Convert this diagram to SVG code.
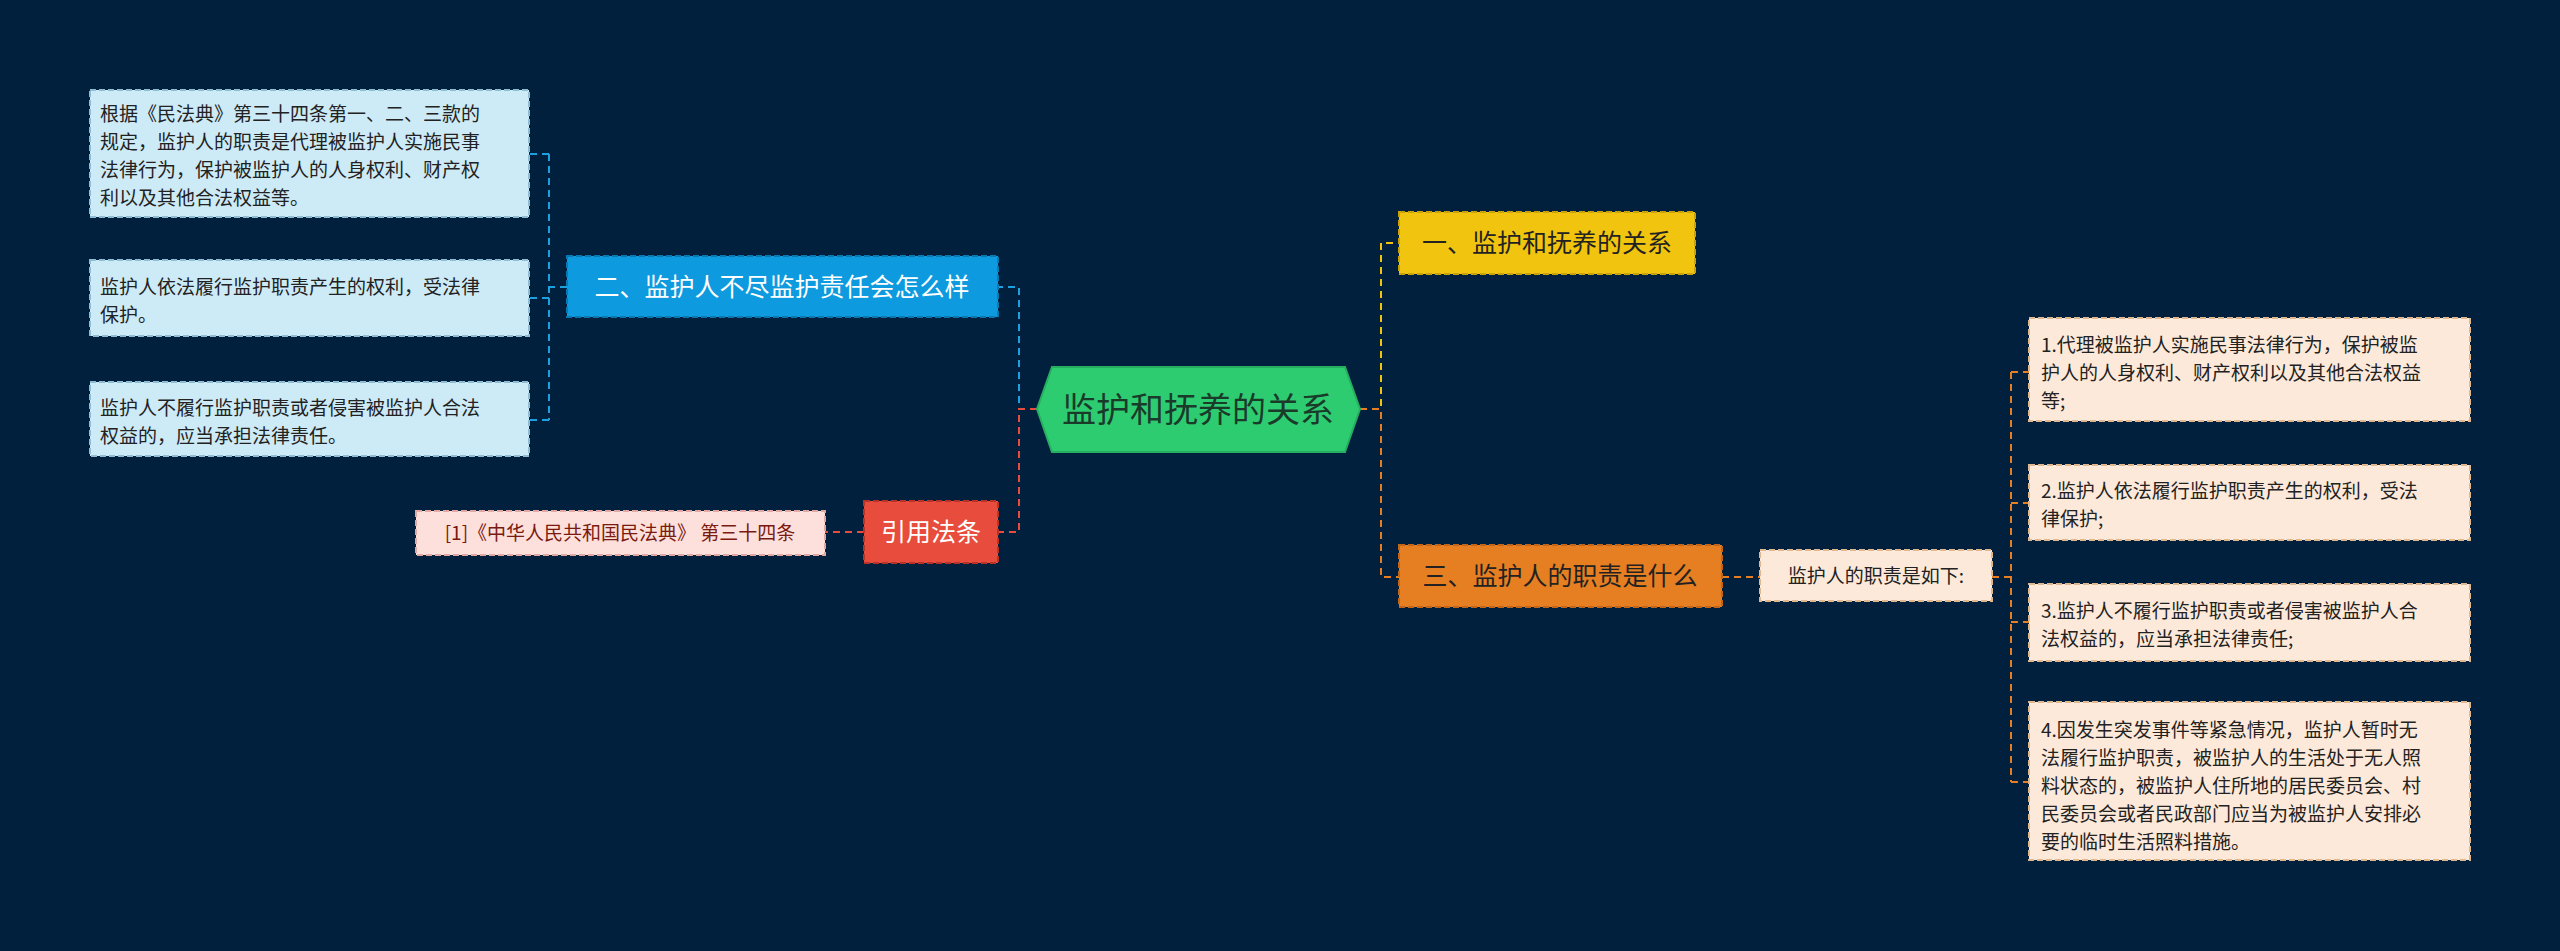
<svg xmlns="http://www.w3.org/2000/svg" width="2560" height="951" viewBox="0 0 2560 951">
<style>
.t{font-family:"Noto Sans CJK SC","Liberation Sans",sans-serif}
.c{fill:none;stroke-width:2;stroke-dasharray:7 5}
.b{stroke-width:2;stroke-dasharray:6 3}
.leaf{font-size:19px;fill:#222}
</style>
<rect width="2560" height="951" fill="#01203e"/>
<g id="connectors">
<path class="c" stroke="#f1c40f" d="M1360 409 H1381 V243 H1399"/>
<path class="c" stroke="#e67e22" d="M1360 409 H1381 V577 H1399"/>
<path class="c" stroke="#1ba1e2" d="M1037 409 H1019 V287 H998"/>
<path class="c" stroke="#e74c3c" d="M1037 409 H1019 V532 H998"/>
<path class="c" stroke="#1ba1e2" d="M567 287 H549 M549 154 V420 M549 154 H529 M549 298 H529 M549 420 H529"/>
<path class="c" stroke="#e74c3c" d="M864 532 H825"/>
<path class="c" stroke="#e67e22" d="M1722 577 H1760 M1992 577 H2011 M2011 372 V782 M2011 372 H2029 M2011 503 H2029 M2011 622 H2029 M2011 782 H2029"/>
</g>
<g id="center">
<polygon points="1052,367 1345,367 1360,409 1345,452 1052,452 1037,409" fill="#2ecc71" stroke="#27ae60" stroke-width="2"/>
<text class="t" x="1198" y="422" font-size="34" fill="#1a3a2a" text-anchor="middle">监护和抚养的关系</text>
</g>
<g id="n1">
<rect class="b" x="1399" y="212" width="296" height="62" fill="#f1c40f" stroke="#c9a20a"/>
<text class="t" x="1547" y="252" font-size="25" fill="#222" text-anchor="middle">一、监护和抚养的关系</text>
</g>
<g id="n3">
<rect class="b" x="1399" y="545" width="323" height="62" fill="#e67e22" stroke="#c0651a"/>
<text class="t" x="1560" y="585" font-size="25" fill="#222" text-anchor="middle">三、监护人的职责是什么</text>
</g>
<g id="n3a">
<rect class="b" x="1760" y="550" width="232" height="51" fill="#fde9d9" stroke="#e0b890"/>
<text class="t" x="1876" y="583" font-size="19" fill="#222" text-anchor="middle">监护人的职责是如下:</text>
</g>
<g id="r1">
<rect class="b" x="2029" y="318" width="441" height="103" fill="#fde9d9" stroke="#e0b890"/>
<text class="t leaf" x="2041" y="352">1.代理被监护人实施民事法律行为，保护被监</text>
<text class="t leaf" x="2041" y="380">护人的人身权利、财产权利以及其他合法权益</text>
<text class="t leaf" x="2041" y="408">等;</text>
</g>
<g id="r2">
<rect class="b" x="2029" y="465" width="441" height="75" fill="#fde9d9" stroke="#e0b890"/>
<text class="t leaf" x="2041" y="498">2.监护人依法履行监护职责产生的权利，受法</text>
<text class="t leaf" x="2041" y="526">律保护;</text>
</g>
<g id="r3">
<rect class="b" x="2029" y="584" width="441" height="77" fill="#fde9d9" stroke="#e0b890"/>
<text class="t leaf" x="2041" y="618">3.监护人不履行监护职责或者侵害被监护人合</text>
<text class="t leaf" x="2041" y="646">法权益的，应当承担法律责任;</text>
</g>
<g id="r4">
<rect class="b" x="2029" y="702" width="441" height="158" fill="#fde9d9" stroke="#e0b890"/>
<text class="t leaf" x="2041" y="737">4.因发生突发事件等紧急情况，监护人暂时无</text>
<text class="t leaf" x="2041" y="765">法履行监护职责，被监护人的生活处于无人照</text>
<text class="t leaf" x="2041" y="793">料状态的，被监护人住所地的居民委员会、村</text>
<text class="t leaf" x="2041" y="821">民委员会或者民政部门应当为被监护人安排必</text>
<text class="t leaf" x="2041" y="849">要的临时生活照料措施。</text>
</g>
<g id="n2">
<rect class="b" x="567" y="256" width="431" height="61" fill="#0e9ade" stroke="#0a78b0"/>
<text class="t" x="782" y="296" font-size="25" fill="#fff" text-anchor="middle">二、监护人不尽监护责任会怎么样</text>
</g>
<g id="l1">
<rect class="b" x="90" y="90" width="439" height="127" fill="#cdeaf7" stroke="#8fbcd2"/>
<text class="t leaf" x="100" y="121">根据《民法典》第三十四条第一、二、三款的</text>
<text class="t leaf" x="100" y="149">规定，监护人的职责是代理被监护人实施民事</text>
<text class="t leaf" x="100" y="177">法律行为，保护被监护人的人身权利、财产权</text>
<text class="t leaf" x="100" y="205">利以及其他合法权益等。</text>
</g>
<g id="l2">
<rect class="b" x="90" y="260" width="439" height="76" fill="#cdeaf7" stroke="#8fbcd2"/>
<text class="t leaf" x="100" y="294">监护人依法履行监护职责产生的权利，受法律</text>
<text class="t leaf" x="100" y="322">保护。</text>
</g>
<g id="l3">
<rect class="b" x="90" y="382" width="439" height="74" fill="#cdeaf7" stroke="#8fbcd2"/>
<text class="t leaf" x="100" y="415">监护人不履行监护职责或者侵害被监护人合法</text>
<text class="t leaf" x="100" y="443">权益的，应当承担法律责任。</text>
</g>
<g id="cite">
<rect class="b" x="864" y="501" width="134" height="62" fill="#e74c3c" stroke="#b83227"/>
<text class="t" x="931" y="541" font-size="25" fill="#fff" text-anchor="middle">引用法条</text>
</g>
<g id="cite1">
<rect class="b" x="416" y="511" width="409" height="44" fill="#fde0dc" stroke="#e0a8a0"/>
<text class="t" x="620" y="540" font-size="19" fill="#7a1a10" text-anchor="middle">[1]《中华人民共和国民法典》 第三十四条</text>
</g>
</svg>
